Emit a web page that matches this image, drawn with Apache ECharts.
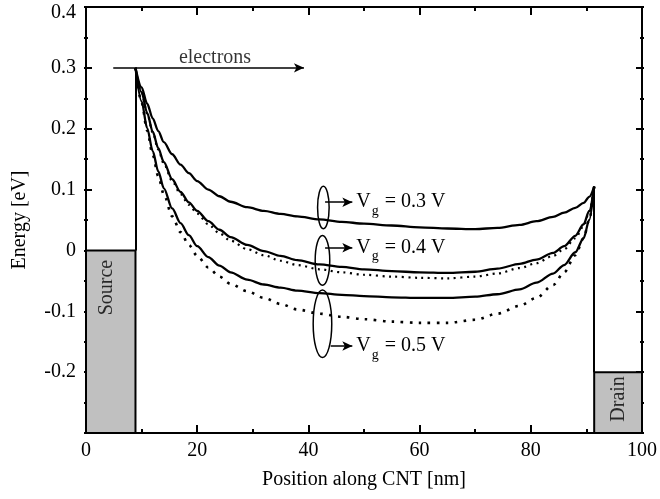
<!DOCTYPE html>
<html><head><meta charset="utf-8">
<script src="https://cdn.jsdelivr.net/npm/echarts@6/dist/echarts.min.js"></script>
<style>html,body{margin:0;padding:0;background:#fff}#c{width:660px;height:499px}</style>
</head><body><div id="c"></div>
<script>
// Position along CNT [nm]
const positions = [8.9, 10, 11, 12, 13, 14, 15.5, 17, 18.5, 20, 22, 24, 26, 29, 32, 35, 38, 42, 46, 50, 55, 60, 65, 70, 74, 78, 81, 84, 86, 88, 89.5, 90.5, 91.4];
// Energy [eV], solid curves
const vg03 = [0.300, 0.268, 0.241, 0.217, 0.196, 0.178, 0.158, 0.141, 0.127, 0.114, 0.100, 0.089, 0.080, 0.071, 0.065, 0.060, 0.056, 0.051, 0.047, 0.044, 0.041, 0.038, 0.036, 0.035, 0.037, 0.042, 0.048, 0.055, 0.062, 0.070, 0.078, 0.088, 0.105];
const vg04 = [0.300, 0.260, 0.226, 0.195, 0.168, 0.145, 0.117, 0.096, 0.079, 0.065, 0.048, 0.034, 0.022, 0.009, -0.001, -0.009, -0.016, -0.023, -0.027, -0.031, -0.034, -0.036, -0.037, -0.035, -0.030, -0.022, -0.015, -0.004, 0.007, 0.024, 0.043, 0.065, 0.105];
const vg05 = [0.300, 0.245, 0.201, 0.163, 0.130, 0.102, 0.069, 0.045, 0.025, 0.007, -0.011, -0.025, -0.036, -0.048, -0.056, -0.061, -0.066, -0.070, -0.073, -0.075, -0.077, -0.078, -0.078, -0.076, -0.072, -0.064, -0.053, -0.038, -0.024, -0.003, 0.020, 0.050, 0.105];
// Energy [eV], dotted curves
const vg04dot = [0.300, 0.2595, 0.225, 0.1935, 0.166, 0.1425, 0.114, 0.0925, 0.075, 0.0605, 0.043, 0.028, 0.016, 0.002, -0.008, -0.017, -0.024, -0.031, -0.036, -0.040, -0.043, -0.045, -0.046, -0.043, -0.038, -0.029, -0.021, -0.009, 0.002, 0.020, 0.040, 0.063, 0.105];
const vg05dot = [0.300, 0.243, 0.197, 0.157, 0.122, 0.092, 0.056, 0.030, 0.009, -0.009, -0.028, -0.043, -0.055, -0.067, -0.078, -0.088, -0.097, -0.104, -0.109, -0.113, -0.117, -0.119, -0.119, -0.114, -0.104, -0.091, -0.078, -0.057, -0.036, -0.008, 0.020, 0.050, 0.105];
// Contacts: [x0, x1, Etop]
const sourceBox = [0, 8.9, 0];
const drainBox = [91.4, 100, -0.2];
const gateLabels = ['0.3', '0.4', '0.5'];
const xTickLabels = ['0', '20', '40', '60', '80', '100'];
const yTickLabels = ['-0.2', '-0.1', '0', '0.1', '0.2', '0.3', '0.4'];

const F = '"Liberation Serif", "DejaVu Serif", serif';
const pair = ys => positions.map((x, i) => [x, ys[i]]);
const K = '#000';
const GL = 86, GR = 16, GT = 7, GB = 66;
const GW = 660 - GL - GR, GH = 499 - GT - GB;

const chart = echarts.init(document.getElementById('c'), null, {renderer: 'canvas'});

// axis that only draws the frame line
function lineAxis(extra) {
  return Object.assign({
    type: 'value',
    axisLine: {show: true, onZero: false, lineStyle: {color: K, width: 2}},
    axisTick: {show: false}, minorTick: {show: false},
    splitLine: {show: false}, minorSplitLine: {show: false}
  }, extra);
}
// axis placed on the opposite edge, whose outward ticks point into the plot
function tickAxis(extra) {
  return Object.assign({
    type: 'value',
    axisLine: {show: false, onZero: false},
    axisLabel: {show: false},
    axisTick: {show: true, inside: false, length: 8, lineStyle: {color: K, width: 2}},
    minorTick: {show: true, splitNumber: 2, length: 4, lineStyle: {color: K, width: 2}},
    splitLine: {show: false}, minorSplitLine: {show: false}
  }, extra);
}

const vgArrow = (y, x0, lab) => [
  {coord: [x0, y]},
  {coord: [47.9, y], label: {show: true, position: 'end', distance: 4,
    formatter: '{v|V}{s|g}{v| = ' + lab + ' V}',
    rich: {
      v: {fontSize: 20, fontFamily: F, color: K},
      s: {fontSize: 14, fontFamily: F, color: K, padding: [18, 1, 0, 1]}
    }}}
];

const xr = {min: 0, max: 100, interval: 20};
const yr = {min: -0.3, max: 0.4, interval: 0.1};

const option = {
  animation: false,
  backgroundColor: '#fff',
  grid: {left: GL, right: GR, top: GT, bottom: GB, containLabel: false},
  xAxis: [
    lineAxis(Object.assign({
      position: 'bottom',
      name: 'Position along CNT [nm]', nameLocation: 'middle', nameGap: 37,
      nameTextStyle: {fontSize: 20, fontFamily: F, color: K},
      axisLabel: {show: true, fontSize: 20, fontFamily: F, color: K, margin: 8,
        formatter: v => xTickLabels[Math.round(v / 20)]}
    }, xr)),
    lineAxis(Object.assign({position: 'top', axisLabel: {show: false}}, xr)),
    tickAxis(Object.assign({position: 'top', offset: -GH}, xr)),
    tickAxis(Object.assign({position: 'bottom', offset: -GH}, xr))
  ],
  yAxis: [
    lineAxis(Object.assign({
      position: 'left',
      name: 'Energy [eV]', nameLocation: 'middle', nameGap: 56,
      nameTextStyle: {fontSize: 20, fontFamily: F, color: K},
      axisLabel: {show: true, fontSize: 20, fontFamily: F, color: K, margin: 10,
        formatter: v => {
          const i = Math.round(v * 10) + 2;
          if (i < 0) return '';
          if (i === 6) return '{t|' + yTickLabels[i] + '}';
          return yTickLabels[i];
        },
        rich: {t: {fontSize: 20, fontFamily: F, color: K, padding: [11, 0, 0, 0]}}
      }
    }, yr)),
    lineAxis(Object.assign({position: 'right', axisLabel: {show: false}}, yr)),
    tickAxis(Object.assign({position: 'right', offset: -GW}, yr)),
    tickAxis(Object.assign({position: 'left', offset: -GW}, yr))
  ],
  series: [
    {
      name: 'Vg=0.5 V (dotted)', type: 'line', data: pair(vg05dot), showSymbol: false, symbol: 'none',
      smooth: 0.3, smoothMonotone: 'x', z: 3,
      lineStyle: {color: K, width: 2.6, type: [2.6, 6.4]},
      markArea: {
        silent: true, z: 1,
        itemStyle: {color: '#c0c0c0', borderColor: K, borderWidth: 2},
        data: [
          [{coord: [sourceBox[0], -0.3]}, {coord: [sourceBox[1], sourceBox[2]]}],
          [{coord: [drainBox[0], -0.3]}, {coord: [drainBox[1], drainBox[2]]}]
        ]
      }
    },
    {
      name: 'Vg=0.4 V (dotted)', type: 'line', data: pair(vg04dot), showSymbol: false, symbol: 'none',
      smooth: 0.3, smoothMonotone: 'x', z: 3,
      lineStyle: {color: K, width: 2.2, type: [2, 4.5]}
    },
    {
      name: 'Vg=0.3 V', type: 'line', data: pair(vg03), showSymbol: false, symbol: 'none',
      smooth: 0.3, smoothMonotone: 'x', z: 4,
      lineStyle: {color: K, width: 2.3},
      markLine: {
        silent: true, symbol: ['none', 'arrow'], symbolSize: [7, 10],
        lineStyle: {color: K, width: 1.5, type: 'solid'},
        label: {show: false},
        emphasis: {disabled: true},
        data: [
          [{coord: [4.9, 0.3]}, {coord: [39.2, 0.3]}],
          vgArrow(0.0792, 43.0, gateLabels[0]),
          vgArrow(0.0044, 43.0, gateLabels[1]),
          vgArrow(-0.157, 44.0, gateLabels[2])
        ]
      }
    },
    {
      name: 'Vg=0.4 V', type: 'line', data: pair(vg04), showSymbol: false, symbol: 'none',
      smooth: 0.3, smoothMonotone: 'x', z: 4,
      lineStyle: {color: K, width: 2.3},
      markLine: {
        silent: true, symbol: ['none', 'none'],
        lineStyle: {color: K, width: 2, type: 'solid'},
        label: {show: false},
        emphasis: {disabled: true},
        data: [
          [{coord: [sourceBox[1], sourceBox[2]]}, {coord: [positions[0], vg03[0]]}],
          [{coord: [drainBox[0], drainBox[2]]}, {coord: [positions[positions.length - 1], vg03[vg03.length - 1]]}]
        ]
      }
    },
    {
      name: 'Vg=0.5 V', type: 'line', data: pair(vg05), showSymbol: false, symbol: 'none',
      smooth: 0.3, smoothMonotone: 'x', z: 4,
      lineStyle: {color: K, width: 2.3}
    },
    {
      name: 'ellipses', type: 'custom', silent: true, z: 5,
      renderItem: (params, api) => {
        const c = api.coord([api.value(0), api.value(1)]);
        const s = api.size([api.value(2), api.value(3)]);
        return {type: 'ellipse', shape: {cx: c[0], cy: c[1], rx: s[0], ry: s[1]},
          style: {fill: 'none', stroke: K, lineWidth: 1.5}};
      },
      data: [[42.69, 0.0705, 1.04, 0.0349], [42.53, -0.0164, 1.31, 0.041], [42.53, -0.1205, 1.67, 0.0554]]
    },
    {
      name: 'texts', type: 'scatter', silent: true, symbol: 'circle', symbolSize: 1, z: 6,
      itemStyle: {color: 'rgba(0,0,0,0)'},
      label: {show: true, position: 'inside', fontSize: 20, fontFamily: F, color: K,
        formatter: p => p.name},
      data: [
        {name: 'electrons', value: [23.2, 0.316]},
        {name: 'Source', value: [3.76, -0.061], label: {rotate: 90}},
        {name: 'Drain', value: [95.8, -0.244], label: {rotate: 90}}
      ]
    }
  ]
};
chart.setOption(option);
</script>
</body></html>
